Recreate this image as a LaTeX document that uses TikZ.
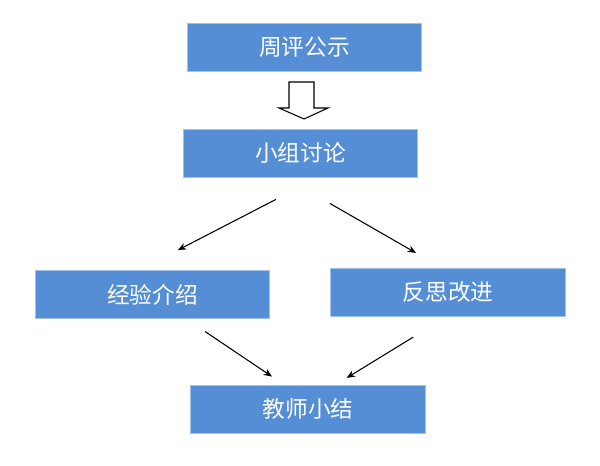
\documentclass[tikz,border=0pt]{standalone}
\usepackage{fontspec}
\newfontfamily\cjk{Noto Sans CJK SC}
\usepackage{xcolor}
\usepackage{tikz}
\usetikzlibrary{arrows.meta, positioning}

\definecolor{boxblue}{HTML}{558ED5}

\begin{document}
\begin{tikzpicture}[
  x=0.75pt, y=-0.75pt,
  step box/.style={rectangle, draw=boxblue!55!white, line width=0.6pt, fill=boxblue, minimum width=176pt, minimum height=36pt, inner sep=0pt, text=white, font=\cjk\fontsize{17}{19}\selectfont},
  arrow/.style={-{Stealth[length=2.2mm, width=1.8mm]}, line width=0.8pt, black},
  hollow/.style={draw=black, line width=0.8pt, fill=white, line join=miter}
]
  \useasboundingbox (0,0) rectangle (600,466);

  \node[step box] (pub) at (304.5,47.5) {周评公示};
  \node[step box] (disc) at (300.5,153) {小组讨论};
  \node[step box] (exp) at (152.5,294.5) {经验介绍};
  \node[step box] (refl) at (448,292) {反思改进};
  \node[step box] (summ) at (308,409) {教师小结};

  % hollow arrow between the top boxes
  \draw[hollow] (289,82) -- (314,82) -- (314,108) -- (328,108) -- (304,119)
    -- (279,108) -- (289,108) -- cycle;

  \draw[arrow] ([xshift=-18.4pt,yshift=-16.5pt]disc.south) -- ([xshift=19pt,yshift=15pt]exp.north);
  \draw[arrow] ([xshift=22pt,yshift=-19.5pt]disc.south) -- ([xshift=-24pt,yshift=11pt]refl.north);
  \draw[arrow] ([xshift=39.5pt,yshift=-9.5pt]exp.south) -- ([xshift=-27pt,yshift=6pt]summ.north);
  \draw[arrow] ([xshift=-26pt,yshift=-15.5pt]refl.south) -- ([xshift=29pt,yshift=5pt]summ.north);
\end{tikzpicture}
\end{document}
